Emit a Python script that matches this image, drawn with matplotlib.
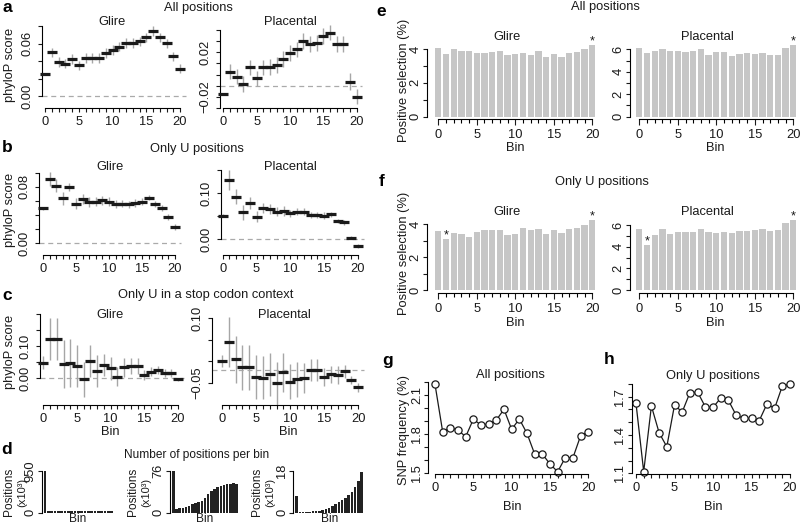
import matplotlib
matplotlib.use('Agg')
import matplotlib.pyplot as plt
import numpy as np

plt.rcParams['font.family'] = ['Liberation Sans', 'DejaVu Sans']
plt.rcParams['axes.linewidth'] = 0.8

bins = np.arange(21)

# ---- panel a: all positions, phyloP
a_glire_mean = [0.0249, 0.050, 0.0389, 0.037, 0.0427, 0.035, 0.0438, 0.0438, 0.0438, 0.049, 0.0528,
                0.0566, 0.0604, 0.0604, 0.0626, 0.067, 0.0747, 0.067, 0.0604, 0.0453, 0.0313]
a_glire_err = [0.0012, 0.0055, 0.0055, 0.0055, 0.0055, 0.0055, 0.0055, 0.0055, 0.0055, 0.0055, 0.0055,
               0.0055, 0.0055, 0.0055, 0.0055, 0.0055, 0.0055, 0.005, 0.005, 0.005, 0.005]
a_plac_mean = [-0.0176, 0.0025, -0.002, -0.0086, 0.0065, -0.0034, 0.0065, 0.007, 0.0086, 0.014, 0.0196,
               0.0227, 0.0302, 0.0275, 0.0286, 0.0347, 0.0377, 0.0275, 0.0275, -0.0065, -0.020]
a_plac_err = [0.0008, 0.007, 0.007, 0.007, 0.007, 0.007, 0.007, 0.007, 0.007, 0.007, 0.007,
              0.007, 0.007, 0.007, 0.007, 0.007, 0.007, 0.007, 0.007, 0.0075, 0.0065]
a_ref = [0.0, -0.01]

# ---- panel b: only U positions
b_glire_mean = [0.0495, 0.0909, 0.0815, 0.0636, 0.0796, 0.056, 0.0626, 0.058, 0.0588, 0.0607, 0.0588,
                0.0555, 0.056, 0.0551, 0.057, 0.0588, 0.0645, 0.056, 0.0495, 0.0372, 0.023]
b_glire_err = [0.002, 0.0105, 0.009, 0.009, 0.006, 0.008, 0.007, 0.007, 0.006, 0.006, 0.006,
               0.005, 0.005, 0.005, 0.005, 0.005, 0.004, 0.004, 0.004, 0.004, 0.004]
b_plac_mean = [0.051, 0.129, 0.0926, 0.0584, 0.078, 0.0489, 0.067, 0.0656, 0.0598, 0.0613, 0.0562,
               0.0598, 0.0598, 0.0525, 0.0525, 0.051, 0.054, 0.0394, 0.0365, 0.003, -0.0146]
b_plac_err = [0.003, 0.022, 0.016, 0.016, 0.013, 0.012, 0.011, 0.01, 0.01, 0.01, 0.008,
              0.008, 0.008, 0.007, 0.007, 0.007, 0.006, 0.005, 0.005, 0.004, 0.004]
b_ref = [0.0, 0.0]

# ---- panel c: only U in a stop codon context
c_glire_mean = [0.048, 0.121, 0.121, 0.044, 0.046, 0.0375, -0.004, 0.053, 0.022, 0.04, 0.030,
                0.004, 0.033, 0.0375, 0.0375, 0.009, 0.02, 0.025, 0.015, 0.015, -0.004]
c_glire_err = [0.021, 0.065, 0.065, 0.075, 0.075, 0.065, 0.055, 0.05, 0.05, 0.035, 0.035,
               0.03, 0.03, 0.025, 0.025, 0.015, 0.015, 0.012, 0.012, 0.012, 0.005]
c_plac_mean = [0.0007, 0.044, 0.005, -0.014, -0.014, -0.036, -0.038, -0.03, -0.051, -0.025, -0.047,
               -0.042, -0.038, -0.02, -0.02, -0.036, -0.03, -0.032, -0.023, -0.043, -0.06]
c_plac_err = [0.014, 0.058, 0.054, 0.052, 0.052, 0.05, 0.05, 0.05, 0.05, 0.045, 0.04,
              0.04, 0.035, 0.025, 0.025, 0.02, 0.02, 0.02, 0.015, 0.01, 0.01]
c_ref = [0.0, -0.02]

# ---- panel d: number of positions per bin (x10^3)
d_all = [950, 40, 40, 40, 40, 40, 40, 40, 40, 40, 40, 40, 40, 40, 40, 40, 40, 40, 40, 40, 40]
d_u = [76, 6.5, 7.7, 8.9, 10.7, 12.5, 14.8, 16.6, 18.4, 20.8, 27.3, 33.3, 38.6, 43.3, 47.5, 49.3,
       51, 52.3, 52.8, 53.4, 52.8]
d_stop = [7, 0.28, 0.28, 0.4, 0.4, 0.56, 0.7, 0.84, 1.1, 1.5, 2.1, 2.7, 3.5, 4.4, 5.3, 6.5,
          7.7, 9.1, 11.25, 13.8, 17.7]
d_top = [950, 76, 18]

# ---- panel e/f: positive selection (%)
e_glire = [4.08, 3.68, 3.98, 3.90, 3.88, 3.74, 3.74, 3.82, 3.90, 3.63, 3.70, 3.78, 3.67, 3.86, 3.55,
           3.68, 3.51, 3.78, 3.80, 3.98, 4.24]
e_plac = [6.08, 5.64, 5.85, 5.99, 5.82, 5.88, 5.73, 5.82, 5.99, 5.49, 5.73, 5.73, 5.40, 5.58, 5.67,
          5.58, 5.67, 5.49, 5.49, 6.11, 6.38]
f_glire = [3.58, 3.07, 3.47, 3.41, 3.23, 3.52, 3.64, 3.64, 3.64, 3.31, 3.39, 3.76, 3.64, 3.68, 3.39,
           3.64, 3.47, 3.68, 3.78, 3.94, 4.24]
f_plac = [5.6, 4.15, 5.08, 5.63, 5.2, 5.35, 5.35, 5.35, 5.63, 5.35, 5.29, 5.35, 5.23, 5.45, 5.45,
          5.57, 5.6, 5.42, 5.51, 6.15, 6.46]
e_glire_star = [20]
e_plac_star = [20]
f_glire_star = [1, 20]
f_plac_star = [1, 20]

# ---- panel g/h: SNP frequency (%)
g_all = [2.182, 1.819, 1.849, 1.832, 1.78, 1.914, 1.87, 1.878, 1.908, 1.99, 1.837, 1.916, 1.806,
         1.648, 1.648, 1.571, 1.512, 1.62, 1.62, 1.788, 1.819]
h_u = [1.648, 1.113, 1.627, 1.418, 1.308, 1.634, 1.58, 1.731, 1.736, 1.621, 1.616, 1.689, 1.671,
       1.556, 1.530, 1.530, 1.512, 1.642, 1.609, 1.783, 1.799]

W, H = 800, 524
FS = 9.3
fig = plt.figure(figsize=(8, 5.24), dpi=100)

GREY_ERR = '#a6a6a6'
BAR_GREY = '#c6c6c6'
INK = '#1a1a1a'


def make_ax(left, top, right, bottom, xmap, ymap, ypad=3.2):
    ax = fig.add_axes([left / W, 1 - bottom / H, (right - left) / W, (bottom - top) / H])
    (xp0, xv0), (xp1, xv1) = xmap
    (yp0, yv0), (yp1, yv1) = ymap
    fx = lambda p: xv0 + (p - xp0) * (xv1 - xv0) / (xp1 - xp0)
    fy = lambda p: yv0 + (p - yp0) * (yv1 - yv0) / (yp1 - yp0)
    ax.set_xlim(fx(left), fx(right))
    ax.set_ylim(fy(bottom), fy(top))
    ax.patch.set_visible(False)
    for s in ['top', 'right']:
        ax.spines[s].set_visible(False)
    ax.tick_params(direction='out', length=3, width=0.8, labelsize=FS, colors=INK)
    ax.tick_params(axis='y', pad=ypad)
    ax.tick_params(axis='x', pad=3.0)
    return ax


def yaxis(ax, ticks, labeled, fmt):
    ax.set_yticks(ticks)
    labs = [(fmt.format(t).replace('-', '\u2212') if any(abs(t - l) < 1e-9 for l in labeled) else '')
            for t in ticks]
    ax.set_yticklabels(labs, rotation=90, va='center')
    ax.spines['left'].set_bounds(ticks[0], ticks[-1])


def xaxis(ax, major_long=False):
    ax.set_xticks(bins)
    ax.set_xticklabels([str(b) if b % 5 == 0 else '' for b in bins])
    ax.spines['bottom'].set_bounds(0, 20)
    if major_long:
        ax.set_xticks([0, 5, 10, 15, 20])
        ax.set_xticklabels(['0', '5', '10', '15', '20'])
        ax.set_xticks(bins, minor=True)
        ax.tick_params(axis='x', which='major', length=4.2)
        ax.tick_params(axis='x', which='minor', length=2.8, width=0.8)


def ftext(x, y, s, **kw):
    kw.setdefault('fontsize', FS)
    kw.setdefault('ha', 'center')
    kw.setdefault('va', 'center')
    kw.setdefault('color', INK)
    fig.text(x / W, 1 - y / H, s, **kw)


def phylo(ax, mean, err, ref):
    mean = np.array(mean)
    err = np.array(err)
    ax.axhline(ref, color='#aaaaaa', lw=0.9, ls=(0, (4, 3)), clip_on=False, zorder=1)
    ax.vlines(bins, mean - err, mean + err, color=GREY_ERR, lw=1.0, clip_on=False, zorder=2)
    ax.plot(bins, mean, ls='none', marker='_', ms=6.8, mew=2.3, color=INK, clip_on=False, zorder=3)


# ---------- a ----------
ax = make_ax(42, 20, 186, 108, ((45, 0), (180, 20)), ((96, 0), (43.6, 0.06)))
phylo(ax, a_glire_mean, a_glire_err, a_ref[0])
yaxis(ax, [0, 0.02, 0.04, 0.06, 0.08], [0, 0.06], '{:.2f}')
xaxis(ax)
ax = make_ax(220, 20, 362, 108, ((223.3, 0), (356.7, 20)), ((74.5, 0), (52.3, 0.02)))
phylo(ax, a_plac_mean, a_plac_err, a_ref[1])
yaxis(ax, [-0.03, -0.02, -0.01, 0, 0.01, 0.02, 0.03, 0.04], [-0.02, 0.02], '{:.2f}')
xaxis(ax)

# ---------- b ----------
ax = make_ax(39, 160, 181, 255, ((43, 0), (175, 20)), ((243.3, 0), (186.7, 0.08)))
phylo(ax, b_glire_mean, b_glire_err, b_ref[0])
yaxis(ax, [0, 0.02, 0.04, 0.06, 0.08, 0.10], [0, 0.08], '{:.2f}')
xaxis(ax)
ax = make_ax(221, 160, 364, 255, ((222.7, 0), (358, 20)), ((239, 0), (193.3, 0.1)))
phylo(ax, b_plac_mean, b_plac_err, b_ref[1])
yaxis(ax, [0, 0.05, 0.10, 0.15], [0, 0.10], '{:.2f}')
xaxis(ax)

# ---------- c ----------
ax = make_ax(40, 305, 184, 405, ((43.3, 0), (178, 20)), ((378, 0), (346, 0.1)))
phylo(ax, c_glire_mean, c_glire_err, c_ref[0])
yaxis(ax, [0, 0.05, 0.10, 0.15, 0.20], [0, 0.10], '{:.2f}')
xaxis(ax)
ax = make_ax(212, 305, 364, 405, ((222, 0), (358.3, 20)), ((361.3, 0), (318, 0.1)))
phylo(ax, c_plac_mean, c_plac_err, c_ref[1])
yaxis(ax, [-0.05, 0, 0.05, 0.10], [-0.05, 0.10], '{:.2f}')
xaxis(ax)

# ---------- d ----------
d_sets = [d_all, d_u, d_stop]
d_boxes = [(41.7, 45, 111.7), (170, 173.3, 236.7), (293.3, 296.6, 361.7)]
for vals, top, (axx, c0, c20) in zip(d_sets, d_top, d_boxes):
    ax = make_ax(axx, 465, c20 + 4, 512.5, ((c0, 0), (c20, 20)), ((512.5, 0), (471, top)), ypad=0.8)
    ax.bar(bins, vals, width=0.78, color='#222222', clip_on=False)
    ax.spines['bottom'].set_visible(False)
    ax.set_xticks([])
    yaxis(ax, [0, top], [0, top], '{:d}')

# ---------- e / f ----------
def selbars(ax, vals, stars):
    ax.bar(bins, vals, width=0.83, color=BAR_GREY, clip_on=False, zorder=1)
    for s in stars:
        ax.annotate('*', (bins[s], vals[s]), xytext=(0, -1.5), textcoords='offset points',
                    ha='center', va='bottom', fontsize=FS, color=INK)

ax = make_ax(427, 30, 598, 119, ((438.3, 0), (592.3, 20)), ((116.7, 0), (49, 4)), ypad=0.8)
selbars(ax, e_glire, e_glire_star)
yaxis(ax, [0, 1, 2, 3, 4], [0, 2, 4], '{:d}')
xaxis(ax, major_long=True)
ax = make_ax(630, 30, 799, 119, ((639.3, 0), (793.3, 20)), ((116.7, 0), (49.3, 6)), ypad=0.8)
selbars(ax, e_plac, e_plac_star)
yaxis(ax, [0, 1, 2, 3, 4, 5, 6], [0, 2, 4, 6], '{:d}')
xaxis(ax, major_long=True)
ax = make_ax(427, 205, 598, 293, ((438.3, 0), (592.3, 20)), ((290, 0), (224, 4)), ypad=0.8)
selbars(ax, f_glire, f_glire_star)
yaxis(ax, [0, 1, 2, 3, 4], [0, 2, 4], '{:d}')
xaxis(ax, major_long=True)
ax = make_ax(630, 205, 799, 293, ((639.3, 0), (793.3, 20)), ((290, 0), (225, 6)), ypad=0.8)
selbars(ax, f_plac, f_plac_star)
yaxis(ax, [0, 1, 2, 3, 4, 5, 6], [0, 2, 4, 6], '{:d}')
xaxis(ax, major_long=True)

# ---------- g / h ----------
def snp(ax, vals):
    ax.plot(bins, vals, color=INK, lw=0.9, marker='o', ms=5.2, mfc='white', mec=INK, mew=0.9,
            clip_on=False)

ax = make_ax(428.3, 380, 592, 474, ((435, 0), (588.3, 20)), ((473.3, 1.5), (395, 2.1)), ypad=0.8)
snp(ax, g_all)
yaxis(ax, [1.5, 1.6, 1.7, 1.8, 1.9, 2.0, 2.1, 2.2], [1.5, 1.8, 2.1], '{:.1f}')
xaxis(ax)
ax = make_ax(631.7, 380, 795, 474, ((636, 0), (790, 20)), ((473.3, 1.1), (396.7, 1.7)), ypad=0.8)
snp(ax, h_u)
yaxis(ax, [1.1, 1.2, 1.3, 1.4, 1.5, 1.6, 1.7, 1.8], [1.1, 1.4, 1.7], '{:.1f}')
xaxis(ax)

# ---------- texts ----------
for s, x, y in [('a', 7, 7), ('b', 7, 147), ('c', 7, 295), ('d', 7, 449),
                ('e', 381, 12), ('f', 382, 181), ('g', 388, 360), ('h', 609, 359)]:
    ftext(x, y, s, fontsize=12.5, fontweight='bold', color='black')

ftext(198, 8, 'All positions')
ftext(197, 149, 'Only U positions')
ftext(206, 295, 'Only U in a stop codon context')
ftext(197, 455, 'Number of positions per bin', fontsize=8.6)
ftext(605, 7, 'All positions')
ftext(602, 182, 'Only U positions')

for s, x, y in [('Glire', 112, 22), ('Placental', 290, 22), ('Glire', 110, 167), ('Placental', 290, 167),
                ('Glire', 110, 315), ('Placental', 284, 315), ('Glire', 507, 37), ('Placental', 707, 37),
                ('Glire', 507, 212), ('Placental', 707, 212), ('All positions', 510, 375),
                ('Only U positions', 713, 376)]:
    ftext(x, y, s)

for y in (65, 210, 352):
    ftext(10, y, 'phyloP score', rotation=90)
ftext(404, 80, 'Positive selection (%)', rotation=90)
ftext(404, 253, 'Positive selection (%)', rotation=90)
ftext(404, 430, 'SNP frequency (%)', rotation=90)

for x, y in [(110, 432), (288, 432), (515, 148), (715, 148), (515, 323), (715, 323), (512, 507), (713, 507)]:
    ftext(x, y, 'Bin')
for x in (78, 205, 330):
    ftext(x, 519, 'Bin', fontsize=8.6)
for x1, x2 in [(9, 22), (133, 146), (257, 270)]:
    ftext(x1, 492, 'Positions', rotation=90, fontsize=8.6)
    ftext(x2, 492, '(x10\u00b3)', rotation=90, fontsize=8.0)

fig.savefig('out.png', dpi=100)
